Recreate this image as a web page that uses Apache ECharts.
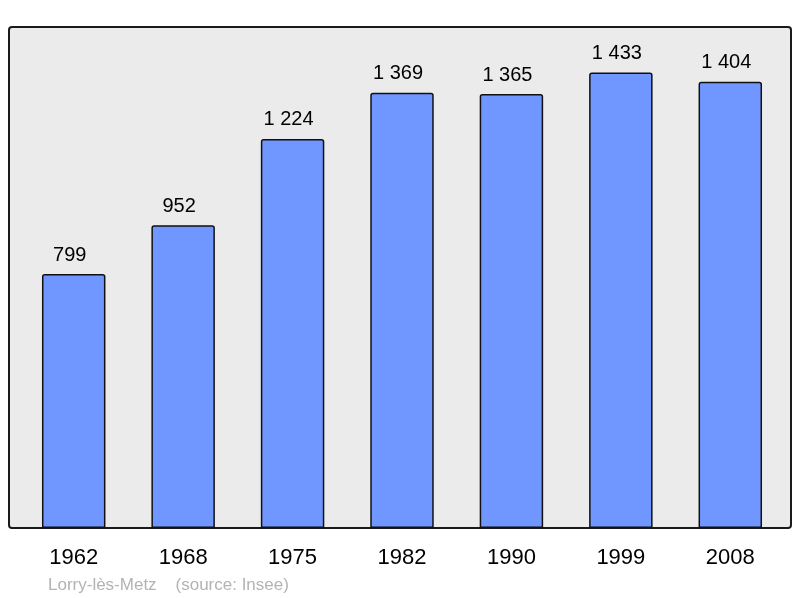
<!DOCTYPE html>
<html><head><meta charset="utf-8">
<script src="https://cdn.jsdelivr.net/npm/echarts@6/dist/echarts.min.js"></script>
<style>html,body{margin:0;padding:0;background:#fff}#c{width:800px;height:598px}</style>
</head><body><div id="c"></div>
<script>
var years = ['1962','1968','1975','1982','1990','1999','2008'];
var population = [799, 952, 1224, 1369, 1365, 1433, 1404];
var caption = 'Lorry-lès-Metz    (source: Insee)';

function fmt(v){ return String(v).replace(/\B(?=(\d{3})+(?!\d))/g, ' '); }

var chart = echarts.init(document.getElementById('c'), null, {renderer:'canvas'});
chart.setOption({
  animation: false,
  graphic: [
    {type:'rect', shape:{x:9, y:27, width:782, height:501, r:3}, style:{fill:'#ebebeb', stroke:'#1a1a1a', lineWidth:2}, z:-10},
    {type:'text', left:48, top:577, style:{text:caption, fill:'#b3b3b3', font:'17px "Liberation Sans", Arial, sans-serif'}}
  ],
  grid: {left:19, right:15, top:27, bottom:70, containLabel:false},
  xAxis: {type:'category', data: years, axisLine:{show:false}, axisTick:{show:false},
    axisLabel:{color:'#000', fontSize:22, fontFamily:'Liberation Sans, Arial, sans-serif', margin:19}},
  yAxis: {type:'value', min:0, max:1576, show:false, splitLine:{show:false}},
  series: [{
    type:'bar', data: population, barWidth:'58%',
    itemStyle:{color:'#7096ff', borderColor:'#111', borderWidth:1.5, borderRadius:[2,2,0,0]},
    label:{show:true, position:'top', distance:9, offset:[-4,0], color:'#000', fontSize:20, fontFamily:'Liberation Sans, Arial, sans-serif',
      formatter: function(p){ return fmt(p.value); }}
  }]
});
</script></body></html>
